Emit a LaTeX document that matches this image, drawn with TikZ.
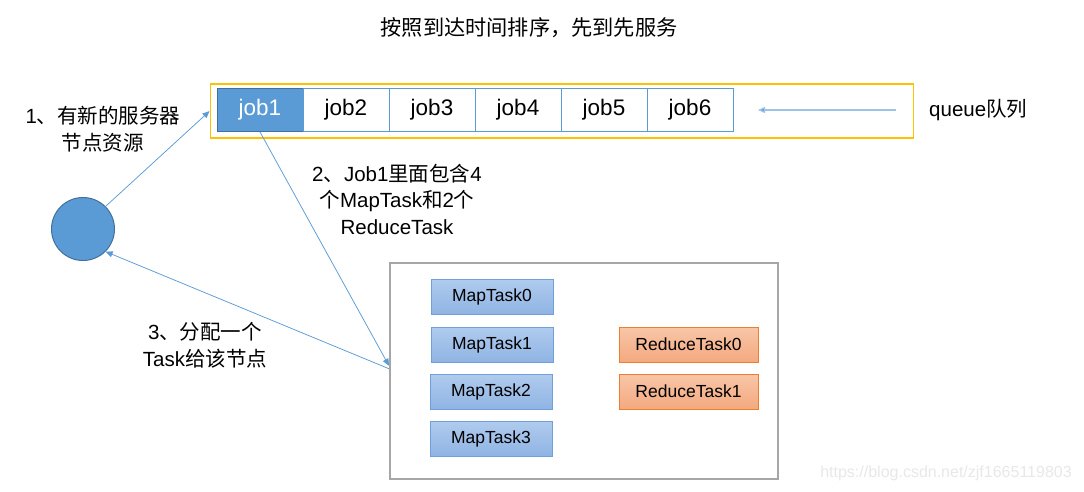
\documentclass[tikz,border=0pt]{standalone}
\usepackage{fontspec}
\setmainfont{Liberation Sans}
\newfontfamily\cjk{Noto Sans CJK SC}
\usetikzlibrary{arrows.meta}
\definecolor{jobblue}{HTML}{5B9BD5}
\definecolor{jobdark}{HTML}{41719C}
\definecolor{queueyellow}{HTML}{FFC000}
\definecolor{linkblue}{HTML}{5B9BD5}
\definecolor{qline}{HTML}{9DC3E6}
\definecolor{poolgray}{HTML}{A6A6A6}
\definecolor{mapborder}{HTML}{6FA0DC}
\definecolor{maptop}{HTML}{B0CBEE}
\definecolor{mapbot}{HTML}{8FB4E3}
\definecolor{redborder}{HTML}{ED7D31}
\definecolor{redtop}{HTML}{F8C6A8}
\definecolor{redbot}{HTML}{F4A97F}
\begin{document}
\begin{tikzpicture}[x=1pt,y=-1pt,
  label/.style={align=center, font=\fontsize{20.5}{26.5}\selectfont, inner sep=0pt},
  jobcell/.style={draw=jobblue, line width=1pt, fill=white, minimum width=86pt, minimum height=43pt, inner sep=0pt, font=\fontsize{22.5}{22.5}\selectfont},
  link/.style={draw=linkblue, line width=0.75pt, -{Triangle[length=7pt,width=6pt]}},
  taskbox/.style={line width=1pt, minimum height=35pt, inner sep=0pt, font=\fontsize{17.5}{17.5}\selectfont},
  mapbox/.style={taskbox, draw=mapborder, top color=maptop, bottom color=mapbot, minimum width=122pt},
  redbox/.style={taskbox, draw=redborder, top color=redtop, bottom color=redbot, minimum width=139pt}
]
\useasboundingbox (0,0) rectangle (1084,492);
\fill[white] (0,0) rectangle (1084,492);

\node[label, font=\fontsize{21.2}{26}\selectfont] (title) at (529,28) {\cjk 按照到达时间排序，先到先服务};

\node[draw=queueyellow, line width=1.3pt, minimum width=703pt, minimum height=54pt, inner sep=0pt, anchor=north west] (queue) at (209.5,83.5) {};
\node[jobcell, fill=jobblue, draw=jobdark, text=white] (job1) at (260,110) {job1};
\node[jobcell] (job2) at (346,110) {job2};
\node[jobcell] (job3) at (432,110) {job3};
\node[jobcell] (job4) at (518,110) {job4};
\node[jobcell] (job5) at (604,110) {job5};
\node[jobcell] (job6) at (690,110) {job6};

\coordinate (qs) at (896,110);
\coordinate (qe) at (758,110);
\draw[draw=qline, line width=1.2pt, -{Triangle[length=7pt,width=6pt,fill=jobblue]}] (qs) -- (qe);
\node[label, anchor=west] (qlabel) at (929,110) {queue{\cjk 队列}};

\node[circle, fill=jobblue, draw=jobdark, line width=1pt, minimum size=63pt, inner sep=0pt] (srv) at (83,229) {};

\node[label] (t1) at (103,129) {1{\cjk 、有新的服务器}\\{\cjk 节点资源}};
\node[label] (t2) at (397,199) {2{\cjk 、}Job1{\cjk 里面包含}4\\{\cjk 个}MapTask{\cjk 和}2{\cjk 个}\\ReduceTask};
\node[label] (t3) at (205,345) {3{\cjk 、分配一个}\\Task{\cjk 给该节点}};

\node[draw=poolgray, line width=1.5pt, minimum width=388pt, minimum height=216pt, inner sep=0pt, anchor=north west] (pool) at (389,262) {};

\node[mapbox] (m0) at (492,296.5) {MapTask0};
\node[mapbox] (m1) at (492,344.5) {MapTask1};
\node[mapbox] (m2) at (491,391.5) {MapTask2};
\node[mapbox] (m3) at (491,438.5) {MapTask3};
\node[redbox] (r0) at (688.5,344.5) {ReduceTask0};
\node[redbox] (r1) at (688.5,391.5) {ReduceTask1};

\draw[link] (srv.45) -- (queue.west);
\draw[link] (job1.south) -- ([yshift=5pt]pool.west);
\draw[link] ([yshift=2pt]pool.west) -- (srv.-45);

\node[text=black!9, font=\fontsize{16}{16}\selectfont, inner sep=0pt] (wm) at (946,473) {https://blog.csdn.net/zjf1665119803};
\end{tikzpicture}
\end{document}
